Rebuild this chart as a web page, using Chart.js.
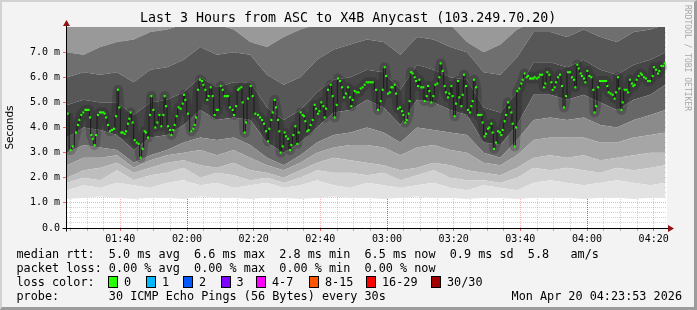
<!DOCTYPE html>
<html>
<head>
<meta charset="utf-8">
<script src="https://cdn.jsdelivr.net/npm/chart.js@4.4.1/dist/chart.umd.min.js"></script>
<style>
  html, body { margin: 0; padding: 0; background: #f3f3f3; }
  #wrap { position: relative; width: 697px; height: 310px; overflow: hidden; background: #f3f3f3; }
  #c { position: absolute; left: 0; top: 0; }
  #frame { position: absolute; left: 0; top: 0; width: 697px; height: 310px; box-sizing: border-box;
    border-top: 2px solid #d2d2d2; border-left: 2px solid #d2d2d2;
    border-right: 3px solid #9c9c9c; border-bottom: 3px solid #9c9c9c; pointer-events: none; }
  .txt { position: absolute; font-family: 'DejaVu Sans Mono', monospace; white-space: pre; color: #000; }
  #title { left: 140px; top: 10px; font-size: 13.3px; line-height: 16px; }
  .row { left: 16.5px; font-size: 11.8px; line-height: 14px; }
  .box { position: absolute; width: 8px; height: 10px; border: 1px solid #000; box-sizing: content-box; }
  #rrd { position: absolute; left: 683px; top: 5px; font-family: 'DejaVu Sans Mono', monospace; font-size: 8px;
    color: #a8a8a8; writing-mode: vertical-rl; white-space: pre; }
</style>
</head>
<body>
<div id="wrap">
  <canvas id="c" width="697" height="310"></canvas>
  <div id="title" class="txt">Last 3 Hours from ASC to X4B Anycast (103.249.70.20)</div>
  <div id="rrd">RRDTOOL / TOBI OETIKER</div>
  <div class="txt row" style="top:247px">median rtt:  5.0 ms avg  6.6 ms max  2.8 ms min  6.5 ms now  0.9 ms sd  5.8   am/s</div>
  <div class="txt row" style="top:261px">packet loss: 0.00 % avg  0.00 % max  0.00 % min  0.00 % now</div>
  <div class="txt row" style="top:275px">loss color:</div>
  <div id="loss"></div>
  <div class="txt row" style="top:289px">probe:       30 ICMP Echo Pings (56 Bytes) every 30s</div>
  <div class="txt" style="top:289px; right:15px; font-size:11.8px; line-height:14px">Mon Apr 20 04:23:53 2026</div>
  <div id="frame"></div>
</div>
<script>
// time axis: minutes after 01:24
const startMinute = 1 * 60 + 24;
const timeLabels = ['01:40', '02:00', '02:20', '02:40', '03:00', '03:20', '03:40', '04:00', '04:20'];
const yLabels = [0, 1, 2, 3, 4, 5, 6, 7];

// median rtt (ms)
const medianTimes = [
  0.2, 1.1, 1.7, 2.7, 3.3, 3.7, 4.3, 4.9, 5.5, 6.0, 6.5, 6.9, 7.3, 7.7, 8.3, 8.7, 9.3, 9.9, 10.4, 10.9,
  11.3, 11.7, 12.3, 12.9, 13.5, 14.1, 14.7, 15.3, 15.7, 16.3, 16.7, 17.3, 17.7, 18.3, 18.7, 19.1, 19.7, 20.3, 20.9, 21.5,
  22.1, 22.7, 23.3, 23.7, 24.3, 24.9, 25.3, 25.9, 26.5, 27.1, 27.7, 28.3, 28.9, 29.3, 29.7, 30.3, 30.9, 31.3, 31.9, 32.3,
  32.9, 33.5, 34.1, 34.7, 35.1, 35.5, 36.3, 37.3, 37.9, 38.3, 38.7, 39.3, 39.9, 40.5, 40.9, 41.5, 42.1, 42.5, 43.1, 43.7,
  44.3, 44.9, 45.3, 46.1, 46.7, 47.3, 47.8, 48.3, 48.9, 49.7, 50.1, 50.7, 51.3, 51.7, 52.3, 52.7, 53.3, 53.7, 54.3, 55.1,
  55.7, 56.5, 57.3, 57.9, 58.5, 59.1, 59.7, 60.3, 60.7, 61.3, 61.7, 62.3, 62.7, 63.3, 63.7, 64.1, 64.7, 65.3, 65.7, 66.3,
  66.9, 67.3, 67.9, 68.5, 69.1, 69.5, 70.1, 70.7, 71.1, 71.5, 72.1, 72.5, 73.1, 73.7, 74.3, 74.7, 75.3, 75.7, 76.3, 76.9,
  77.3, 77.7, 78.3, 79.1, 79.7, 80.3, 80.9, 81.3, 81.9, 82.5, 83.1, 83.7, 84.3, 84.9, 85.3, 85.7, 86.3, 86.9, 87.5, 88.1,
  88.7, 89.3, 89.9, 90.5, 91.1, 91.7, 92.7, 93.3, 94.1, 94.7, 95.3, 95.7, 96.3, 96.9, 97.3, 97.7, 98.3, 98.7, 99.3, 99.9,
  100.5, 100.9, 101.5, 101.9, 102.5, 102.8, 103.2, 103.7, 104.3, 104.7, 105.3, 105.7, 106.3, 106.9, 107.3, 107.9, 108.3, 108.7, 109.3, 109.9,
  110.5, 111.1, 111.7, 112.1, 112.7, 113.3, 113.7, 114.3, 114.7, 115.3, 115.7, 116.3, 116.7, 117.3, 117.7, 118.3, 118.7, 119.1, 119.7, 120.3,
  120.9, 121.3, 121.7, 122.1, 122.7, 123.3, 123.8, 124.3, 124.7, 125.3, 125.7, 126.3, 126.7, 127.3, 127.7, 128.1, 128.7, 129.3, 129.9, 130.3,
  130.7, 131.3, 131.7, 132.3, 132.7, 133.3, 133.7, 134.3, 134.7, 135.1, 135.7, 136.3, 136.7, 137.3, 137.9, 138.3, 138.9, 139.4, 139.9, 140.3,
  140.9, 141.5, 141.9, 142.5, 143.1, 143.5, 144.1, 144.7, 145.3, 145.7, 146.3, 146.7, 147.3, 147.9, 148.5, 149.1, 149.7, 150.3, 150.9, 151.5,
  152.1, 152.5, 153.1, 153.5, 154.1, 154.5, 155.1, 155.5, 156.1, 156.7, 157.3, 157.9, 158.3, 158.7, 159.3, 159.9, 160.5, 161.1, 161.7, 162.1,
  162.5, 163.1, 163.7, 164.3, 164.7, 165.3, 165.7, 166.3, 166.7, 167.3, 167.9, 168.3, 168.9, 169.5, 169.9, 170.3, 170.9, 171.5, 172.1, 172.5,
  173.1, 173.7, 174.3, 174.9, 175.7, 176.1, 176.7, 177.3, 177.7, 178.3, 178.9, 179.3
];
const medianValues = [
  4.55, 3.1, 3.25, 3.8, 4.1, 4.3, 4.5, 4.6, 4.7, 4.7, 4.7, 4.4, 3.7, 3.55, 3.3, 3.7, 4.5, 4.6, 4.6, 4.6,
  4.55, 4.4, 4.1, 3.85, 3.9, 3.95, 4.45, 5.5, 4.8, 3.8, 3.8, 3.75, 3.85, 4.15, 4.35, 4.6, 4.2, 3.5, 3.4, 3.35,
  2.8, 3.15, 3.85, 3.8, 3.6, 4.5, 5.25, 4.7, 4.0, 4.2, 4.5, 4.05, 4.5, 5.25, 4.85, 4.05, 3.9, 3.7, 3.9, 4.1,
  4.45, 4.8, 4.75, 4.95, 5.3, 5.1, 4.55, 3.85, 3.95, 4.1, 4.4, 5.5, 5.9, 5.85, 5.7, 5.5, 5.1, 5.25, 5.6, 5.25,
  4.5, 4.7, 4.7, 5.65, 5.5, 5.25, 5.25, 5.25, 4.8, 4.7, 4.5, 4.85, 5.5, 5.55, 5.6, 5.0, 3.8, 4.2, 5.15, 5.65,
  5.25, 4.55, 4.5, 4.4, 4.3, 4.15, 3.85, 3.45, 3.95, 4.3, 4.6, 5.1, 4.8, 4.3, 3.85, 3.0, 3.25, 3.8, 3.65, 3.55,
  3.1, 3.3, 3.7, 4.05, 3.35, 3.8, 4.6, 4.5, 4.45, 4.25, 3.85, 3.9, 4.1, 4.3, 4.9, 4.75, 4.55, 4.65, 5.0, 4.85,
  4.4, 4.75, 5.5, 5.7, 5.25, 4.4, 4.9, 5.95, 5.85, 5.6, 5.2, 5.35, 5.6, 5.2, 4.85, 5.1, 5.45, 5.4, 5.4, 5.55,
  5.6, 5.7, 5.8, 5.8, 5.8, 5.8, 5.5, 4.7, 5.05, 5.5, 6.4, 6.05, 5.35, 5.4, 5.6, 5.6, 5.7, 5.35, 4.75, 4.8,
  4.65, 4.5, 4.2, 4.3, 4.55, 5.05, 6.2, 6.15, 6.0, 5.85, 5.65, 5.9, 5.6, 5.6, 5.05, 5.25, 5.65, 5.45, 5.0, 5.25,
  5.7, 5.75, 6.0, 6.55, 6.25, 5.65, 5.4, 5.2, 5.35, 5.65, 5.25, 4.45, 4.95, 5.85, 5.2, 4.85, 5.3, 6.1, 5.65, 4.7,
  4.6, 4.85, 5.05, 5.9, 5.6, 4.5, 4.5, 4.5, 4.2, 3.65, 3.75, 3.95, 4.0, 4.15, 3.8, 3.15, 3.4, 3.85, 3.8, 3.7,
  3.9, 4.25, 4.5, 5.0, 4.8, 4.6, 4.15, 3.25, 4.0, 5.45, 5.55, 5.75, 5.9, 6.15, 6.0, 6.05, 5.95, 5.95, 5.95, 6.0,
  5.95, 6.0, 6.1, 6.1, 5.6, 5.75, 6.2, 6.1, 5.8, 5.5, 5.6, 5.8, 6.0, 6.1, 5.65, 4.8, 5.25, 6.2, 6.2, 6.0,
  5.9, 5.6, 6.5, 6.35, 6.15, 6.05, 5.95, 5.8, 6.25, 6.05, 6.0, 5.5, 4.6, 4.85, 5.6, 5.85, 5.85, 5.85, 5.85, 5.65,
  5.4, 5.35, 5.3, 5.15, 5.4, 6.0, 5.55, 4.7, 5.0, 5.5, 5.5, 5.4, 5.9, 5.75, 5.65, 5.7, 5.9, 6.05, 6.15, 6.1,
  6.0, 5.95, 5.85, 5.85, 6.05, 6.4, 6.3, 6.15, 6.25, 6.45, 6.45, 6.55
];

// smoke: boundaries between ping ranks (ms), read every 5 minutes
const smokeTimes = [0, 5, 10, 15, 20, 25, 30, 35, 40, 45, 50, 55, 60, 65, 70, 75, 80, 85, 90, 95, 100, 105, 110, 115, 120, 125, 130, 135, 140, 145, 150, 155, 160, 165, 170, 175, 179.5];
const smokeMin    = [1.15, 1.2, 1.25, 1.2, 1.15, 1.2, 1.2, 1.15, 1.25, 1.2, 1.2, 1.15, 1.2, 1.2, 1.15, 1.2, 1.25, 1.2, 1.2, 1.15, 1.2, 1.25, 1.2, 1.2, 1.15, 1.2, 1.2, 1.15, 1.2, 1.2, 1.2, 1.15, 1.2, 1.2, 1.15, 1.2, 1.2];
const smokeLow5   = [1.5, 1.7, 1.6, 1.8, 1.7, 1.6, 1.8, 1.9, 1.7, 1.8, 1.6, 1.7, 1.8, 1.6, 1.7, 1.9, 1.7, 1.6, 1.8, 1.7, 1.6, 1.7, 1.8, 1.6, 1.5, 1.7, 1.6, 1.5, 1.8, 1.9, 1.8, 1.7, 1.8, 1.9, 1.8, 1.7, 1.8];
const smokeLow4   = [1.8, 2.0, 1.9, 2.3, 1.9, 2.1, 2.2, 2.4, 2.0, 2.2, 2.1, 1.9, 2.0, 1.8, 2.0, 2.3, 2.2, 2.2, 2.1, 2.2, 1.9, 2.1, 2.3, 2.0, 1.9, 1.9, 1.8, 2.0, 2.4, 2.3, 2.4, 2.3, 2.2, 2.4, 2.3, 2.4, 2.5];
const smokeLow3   = [2.0, 2.3, 2.4, 2.6, 2.2, 2.4, 2.6, 2.7, 2.5, 2.4, 2.6, 2.3, 2.2, 2.0, 2.3, 2.6, 2.8, 2.7, 2.6, 2.5, 2.3, 2.4, 2.6, 2.5, 2.3, 2.2, 2.1, 2.4, 2.8, 2.9, 2.8, 2.9, 2.7, 2.8, 2.9, 3.0, 3.0];
const smokeLow2   = [2.5, 2.8, 2.8, 2.9, 2.4, 2.7, 2.9, 3.0, 3.1, 2.9, 3.1, 2.8, 2.5, 2.3, 2.6, 3.0, 3.2, 3.3, 3.3, 3.2, 2.9, 3.2, 3.3, 3.1, 3.0, 2.6, 2.5, 2.9, 3.5, 3.6, 3.6, 3.6, 3.4, 3.4, 3.6, 3.7, 3.8];
const smokeLow1   = [3.0, 3.3, 3.2, 3.1, 2.6, 2.9, 3.1, 3.4, 3.6, 3.5, 3.6, 3.3, 2.8, 2.5, 2.9, 3.4, 3.7, 3.8, 4.0, 3.8, 3.4, 4.0, 3.9, 3.8, 3.7, 3.0, 2.8, 3.5, 4.3, 4.4, 4.3, 4.4, 4.1, 4.0, 4.3, 4.5, 4.7];
const smokeCoreLo = [3.6, 4.0, 3.9, 3.7, 3.1, 3.6, 3.7, 4.1, 4.7, 4.3, 4.4, 4.3, 3.4, 3.0, 3.4, 4.0, 4.6, 4.7, 5.1, 4.8, 4.1, 5.1, 5.0, 4.7, 4.5, 3.4, 3.3, 4.1, 5.3, 5.3, 5.1, 5.3, 5.0, 4.7, 5.1, 5.3, 5.7];
const smokeCoreHi = [4.9, 5.1, 5.0, 5.0, 4.5, 5.0, 5.1, 5.4, 6.0, 5.6, 5.8, 5.8, 4.8, 4.3, 4.7, 5.4, 5.9, 6.0, 6.3, 6.2, 5.5, 6.5, 6.3, 6.0, 5.9, 4.8, 4.6, 5.4, 6.6, 6.6, 6.4, 6.7, 6.3, 6.1, 6.5, 6.7, 7.0];
const smokeHigh1  = [6.0, 6.2, 6.1, 6.2, 5.8, 6.3, 6.4, 6.7, 7.2, 6.9, 7.0, 6.9, 6.1, 5.7, 6.0, 6.7, 7.1, 7.3, 7.5, 7.4, 6.9, 7.6, 7.5, 7.2, 7.0, 6.2, 6.1, 6.8, 7.8, 7.8, 7.6, 7.9, 7.6, 7.4, 7.8, 7.9, 8.1];
const smokeHigh2  = [7.0, 6.9, 7.2, 7.4, 7.5, 7.8, 7.9, 8.1, 8.2, 8.1, 7.9, 7.4, 7.2, 7.6, 7.9, 8.1, 8.2, 8.2, 8.0, 8.1, 8.2, 8.2, 8.2, 8.1, 7.4, 7.0, 7.3, 7.9, 8.2, 8.2, 8.2, 8.2, 8.2, 8.2, 8.2, 8.2, 8.2];
const smokeMax    = [9, 9, 9, 9, 9, 9, 9, 9, 9, 9, 9, 9, 9, 9, 9, 9, 9, 9, 9, 9, 9, 9, 9, 9, 9, 9, 9, 9, 9, 9, 9, 9, 9, 9, 9, 9, 9];

const lossLabels = ['0', '1', '2', '3', '4-7', '8-15', '16-29', '30/30'];
const lossColors = ['#26ff00', '#00b8ff', '#0059ff', '#7e00ff', '#ff00ff', '#ff5500', '#ff0000', '#a10000'];
const lossBoxX = [108, 146, 183, 220.5, 256, 309, 366, 431];

// loss colour legend
const lossDiv = document.getElementById('loss');
lossLabels.forEach((lab, i) => {
  const b = document.createElement('div');
  b.className = 'box';
  b.style.left = lossBoxX[i] + 'px';
  b.style.top = '276px';
  b.style.background = lossColors[i];
  lossDiv.appendChild(b);
  const t = document.createElement('div');
  t.className = 'txt';
  t.style.cssText = 'left:' + (lossBoxX[i] + 16) + 'px; top:275px; font-size:11.8px; line-height:14px';
  t.textContent = lab;
  lossDiv.appendChild(t);
});

const labelMinutes = timeLabels.map(s => {
  const [h, m] = s.split(':').map(Number);
  return h * 60 + m - startMinute;
});

const xTicks = [];
for (let m = 1; m <= 180; m += 5) xTicks.push(m);
const yTicks = [];
for (let k = 0; k < 40; k++) yTicks.push(Math.round(k * 2) / 10);

const toXY = (times, vals) => times.map((t, i) => ({ x: t, y: vals[i] }));

const bands = [
  [smokeMin, null],
  [smokeLow5, '#e3e3e3'],
  [smokeLow4, '#d2d2d2'],
  [smokeLow3, '#bebebe'],
  [smokeLow2, '#a6a6a6'],
  [smokeLow1, '#8b8b8b'],
  [smokeCoreLo, '#676767'],
  [smokeCoreHi, '#464646'],
  [smokeHigh1, '#575757'],
  [smokeHigh2, '#6f6f6f'],
  [smokeMax, '#999999']
];

const datasets = bands.map(([vals, color], i) => ({
  data: toXY(smokeTimes, vals),
  borderColor: 'rgba(0,0,0,0)',
  borderWidth: 0,
  pointRadius: 0,
  backgroundColor: color || 'rgba(0,0,0,0)',
  fill: i === 0 ? false : '-1',
  order: 5
}));

// dark core around the median
datasets.push({
  data: toXY(medianTimes, medianValues),
  borderColor: 'rgba(25,25,25,0.22)',
  borderWidth: 10,
  borderJoinStyle: 'round',
  pointRadius: 0,
  fill: false,
  order: 3
});
datasets.push({
  data: toXY(medianTimes, medianValues),
  borderColor: '#1a1a1a',
  borderWidth: 1,
  stepped: 'middle',
  pointRadius: 0,
  fill: false,
  order: 2
});
// median dots
datasets.push({
  data: toXY(medianTimes, medianValues),
  showLine: false,
  pointStyle: 'rect',
  pointRadius: 1.5,
  pointBorderWidth: 0,
  pointBackgroundColor: '#26ff00',
  order: 1
});

const plotDecor = {
  id: 'plotDecor',
  beforeDraw(chart) {
    const { ctx, chartArea: a } = chart;
    ctx.save();
    ctx.fillStyle = '#ffffff';
    ctx.fillRect(a.left, a.top, a.right - a.left, a.bottom - a.top);
    ctx.restore();
  },
  afterDraw(chart) {
    const { ctx, chartArea: a } = chart;
    const x0 = Math.round(a.left) - 0.5;
    const y0 = Math.round(a.bottom) + 0.5;
    ctx.save();
    ctx.strokeStyle = '#000';
    ctx.lineWidth = 1;
    ctx.beginPath();
    ctx.moveTo(x0, y0 + 3);
    ctx.lineTo(x0, a.top - 2);
    ctx.moveTo(x0 - 4, y0);
    ctx.lineTo(a.right + 2, y0);
    ctx.stroke();
    ctx.fillStyle = '#8e1414';
    ctx.beginPath();
    ctx.moveTo(x0, a.top - 7);
    ctx.lineTo(x0 - 3.5, a.top - 1);
    ctx.lineTo(x0 + 3.5, a.top - 1);
    ctx.closePath();
    ctx.fill();
    ctx.beginPath();
    ctx.moveTo(a.right + 7, y0);
    ctx.lineTo(a.right + 1, y0 - 3.5);
    ctx.lineTo(a.right + 1, y0 + 3.5);
    ctx.closePath();
    ctx.fill();
    ctx.restore();
  }
};

const monoFont = { family: 'DejaVu Sans Mono', size: 10 };

new Chart(document.getElementById('c'), {
  type: 'line',
  data: { datasets },
  plugins: [plotDecor],
  options: {
    responsive: false,
    animation: false,
    events: [],
    layout: { padding: { left: 0, top: 27, right: 30, bottom: 62 } },
    plugins: { legend: { display: false }, tooltip: { enabled: false }, title: { display: false } },
    scales: {
      x: {
        type: 'linear',
        min: 0,
        max: 180,
        z: 1,
        afterBuildTicks: s => { s.ticks = xTicks.map(v => ({ value: v })); },
        afterFit: s => { s.height = 20; },
        ticks: {
          autoSkip: false,
          maxRotation: 0,
          padding: 2,
          font: monoFont,
          color: '#000',
          callback: v => {
            const i = labelMinutes.indexOf(v);
            return i >= 0 ? timeLabels[i] : '';
          }
        },
        grid: {
          lineWidth: 1,
          tickLength: 3,
          color: c => {
            const v = c.tick ? c.tick.value : 0;
            const i = labelMinutes.indexOf(v);
            if (i < 0) return 'rgba(110,110,110,0.3)';
            return timeLabels[i].endsWith(':00') ? 'rgba(255,40,40,0.8)' : 'rgba(255,0,0,0.3)';
          },
          tickColor: c => labelMinutes.indexOf(c.tick ? c.tick.value : -1) >= 0 ? 'rgba(255,0,0,0.6)' : 'rgba(110,110,110,0.5)'
        },
        border: { display: false, dash: [1, 1] }
      },
      y: {
        min: 0,
        max: 8,
        z: 1,
        afterBuildTicks: s => { s.ticks = yTicks.map(v => ({ value: v })); },
        afterFit: s => { s.width = 67; },
        ticks: {
          autoSkip: false,
          padding: 3,
          font: monoFont,
          color: '#000',
          callback: v => {
            if (!yLabels.some(l => Math.abs(l - v) < 1e-6)) return '';
            return v === 0 ? '0.0' : v.toFixed(1) + ' m';
          }
        },
        title: {
          display: true,
          text: 'Seconds',
          color: '#000',
          font: { family: 'DejaVu Sans', size: 10.5 },
          padding: { top: 4, bottom: 0 }
        },
        grid: {
          lineWidth: 1,
          tickLength: 4,
          color: c => {
            const v = c.tick ? c.tick.value : 0;
            return yLabels.some(l => Math.abs(l - v) < 1e-6) ? 'rgba(255,0,0,0.3)' : 'rgba(110,110,110,0.3)';
          },
          tickColor: c => {
            const v = c.tick ? c.tick.value : 0;
            return yLabels.some(l => Math.abs(l - v) < 1e-6) ? 'rgba(255,0,0,0.6)' : 'rgba(0,0,0,0)';
          }
        },
        border: { display: false, dash: [1, 1] }
      }
    }
  }
});
</script>
</body>
</html>
